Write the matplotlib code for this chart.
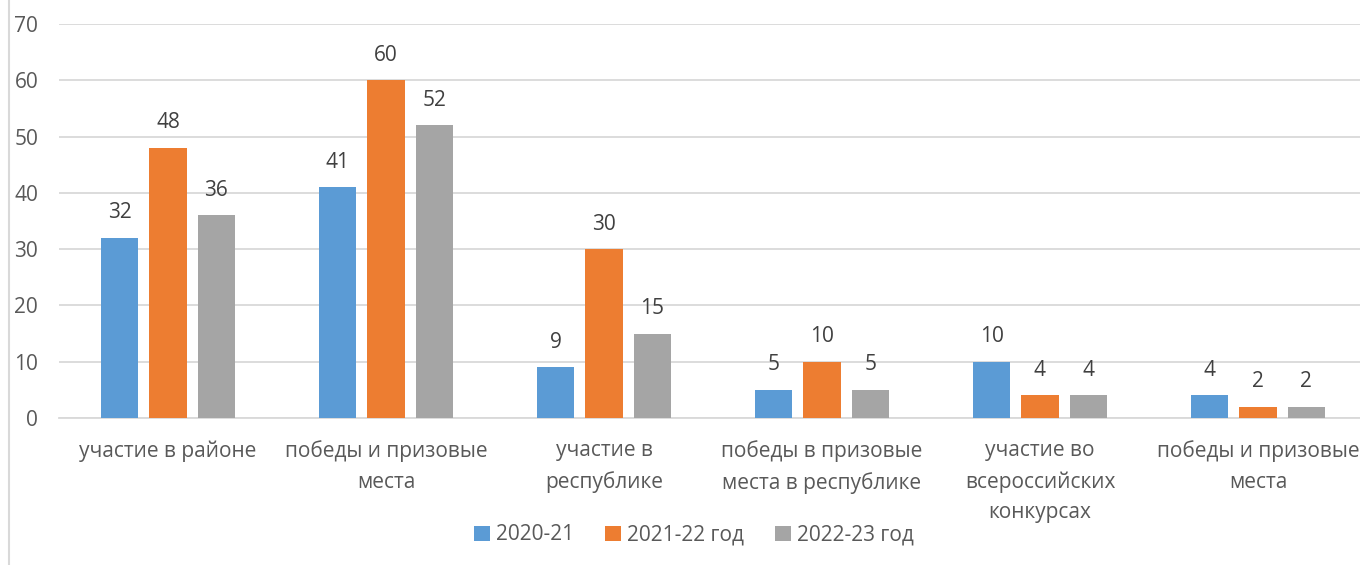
import matplotlib.pyplot as plt
import matplotlib.lines as mlines
import numpy as np

plt.rcParams['font.family'] = ['Open Sans', 'DejaVu Sans']

CATEGORIES = [
    "участие в районе",
    "победы и призовые\nместа",
    "участие в\nреспублике",
    "победы в призовые\nместа в республике",
    "участие во\nвсероссийских\nконкурсах",
    "победы и призовые\nместа",
]
SERIES = ["2020-21", "2021-22 год", "2022-23 год"]
VALUES_2020 = [32, 41, 9, 5, 10, 4]
VALUES_2021 = [48, 60, 30, 10, 4, 2]
VALUES_2022 = [36, 52, 15, 5, 4, 2]

COLORS = ["#5B9BD5", "#ED7D31", "#A5A5A5"]
TEXT = "#595959"
GRID = "#D9D9D9"

W, H = 1360, 565
fig = plt.figure(figsize=(W / 100, H / 100), dpi=100)
# plot area: x from 59px to ~1367px (cropped at right), y from 24px to 418px
ax = fig.add_axes([59 / W, (H - 418) / H, 1308 / W, 394 / H])

x = np.arange(len(CATEGORIES))
width = 0.172
step = 0.222
for k, (vals, col, name) in enumerate(zip([VALUES_2020, VALUES_2021, VALUES_2022], COLORS, SERIES)):
    pos = x + (k - 1) * step
    bars = ax.bar(pos, vals, width=width, color=col, label=name, zorder=3)
    for b, v in zip(bars, vals):
        ax.text(b.get_x() + b.get_width() / 2, v + 2.6, str(v), ha="center", va="bottom",
                fontsize=15, color="#404040")

ax.set_xlim(-0.5, len(CATEGORIES) - 0.5)
ax.set_ylim(0, 70)
ax.set_yticks(range(0, 71, 10))
ax.yaxis.grid(True, color=GRID, linewidth=1.3, zorder=0)
ax.set_axisbelow(True)
for s in ["top", "right", "left"]:
    ax.spines[s].set_visible(False)
ax.spines["bottom"].set_color(GRID)
ax.spines["bottom"].set_linewidth(1.3)
ax.tick_params(axis="y", length=0, pad=15, labelsize=15, labelcolor=TEXT)
ax.tick_params(axis="x", length=0, pad=16, labelsize=15, labelcolor=TEXT)
ax.set_xticks(x)
ax.set_xticklabels(CATEGORIES, linespacing=1.6)

leg = fig.legend(loc="center", bbox_to_anchor=(694 / W, (H - 535) / H), ncol=3, frameon=False,
                 fontsize=15, handlelength=0.75, handleheight=0.75, handletextpad=0.3,
                 columnspacing=1.5, labelcolor=TEXT)

# left frame border
fig.add_artist(mlines.Line2D([9 / W, 9 / W], [0, 1], color=GRID, linewidth=1.5))

fig.savefig("out.png", dpi=100)
